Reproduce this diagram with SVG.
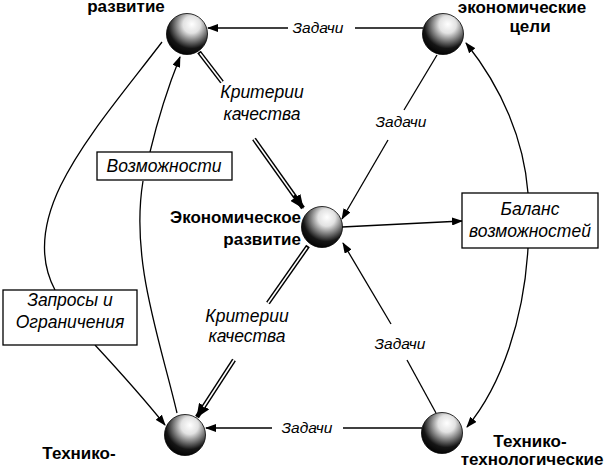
<svg xmlns="http://www.w3.org/2000/svg" width="607" height="468" viewBox="0 0 607 468">
<style>
.bold{font-family:"Liberation Sans",Arial,sans-serif;font-weight:bold;font-size:17px;fill:#000}
.it{font-family:"Liberation Sans",Arial,sans-serif;font-style:italic;font-size:17.5px;fill:#000}
.tz{font-family:"Liberation Sans",Arial,sans-serif;font-style:italic;font-size:15.5px;fill:#000}
.ln{fill:none;stroke:#000;stroke-width:1.3}
.dbl{fill:none;stroke:#000;stroke-width:4.5}
.dblw{fill:none;stroke:#fff;stroke-width:1.6}
.box{fill:#fff;stroke:#000;stroke-width:1.3}
.sph{fill:url(#sg);stroke:#000;stroke-width:0.8}
</style>
<defs>
<radialGradient id="sg" cx="0.6" cy="0.3" r="0.75" fx="0.62" fy="0.26">
<stop offset="0" stop-color="#fff"/>
<stop offset="0.28" stop-color="#e2e2e2"/>
<stop offset="0.52" stop-color="#7a7a7a"/>
<stop offset="0.75" stop-color="#151515"/>
<stop offset="1" stop-color="#000"/>
</radialGradient>
<marker id="ah" markerWidth="11" markerHeight="8" refX="10" refY="4" orient="auto" markerUnits="userSpaceOnUse">
<path d="M0,0 L11,4 L0,8 z" fill="#000"/>
</marker>
<marker id="ahb" markerWidth="14" markerHeight="12" refX="13" refY="6" orient="auto" markerUnits="userSpaceOnUse">
<path d="M0,0 L14,6 L0,12 z" fill="#000"/>
</marker>
</defs>

<g id="connectors">
<line class="ln" x1="423" y1="28" x2="355" y2="28"/>
<line class="ln" x1="288" y1="28" x2="208" y2="28" marker-end="url(#ah)"/>
<line class="ln" x1="422" y1="428" x2="343" y2="428"/>
<line class="ln" x1="272" y1="428" x2="206" y2="428" marker-end="url(#ah)"/>
<line class="ln" x1="437" y1="55" x2="404" y2="110"/>
<line class="ln" x1="388" y1="140" x2="342" y2="219" marker-end="url(#ah)"/>
<line class="ln" x1="436" y1="413" x2="407" y2="360"/>
<line class="ln" x1="391" y1="324" x2="343" y2="243" marker-end="url(#ah)"/>
<line class="ln" x1="342" y1="227" x2="462" y2="221" marker-end="url(#ah)"/>
<path class="ln" d="M528,193 C524,140 502,88 466,43" marker-end="url(#ah)"/>
<path class="ln" d="M528,248 C524,318 502,385 467,427" marker-end="url(#ah)"/>
<path class="ln" d="M162,42 C95,130 15,215 55,290"/>
<path class="ln" d="M95,345 C120,372 145,400 165,425" marker-end="url(#ah)"/>
<path class="ln" d="M177,413 C160,340 130,260 143,181"/>
<path class="ln" d="M150,152 C160,110 170,82 180,57" marker-end="url(#ah)"/>
<line class="dbl" x1="199" y1="52" x2="222" y2="82"/>
<line class="dblw" x1="200" y1="53.3" x2="222" y2="82"/>
<line class="dbl" x1="254" y1="139" x2="303" y2="208" marker-end="url(#ahb)"/>
<line class="dblw" x1="254" y1="139" x2="294" y2="195.4"/>
<line class="dbl" x1="308" y1="246" x2="268" y2="303"/>
<line class="dblw" x1="307" y1="247.4" x2="268" y2="303"/>
<line class="dbl" x1="234" y1="360" x2="197" y2="417" marker-end="url(#ahb)"/>
<line class="dblw" x1="234" y1="360" x2="203.5" y2="407"/>
</g>

<g id="node-tech-dev">
<circle class="sph" cx="187" cy="34" r="20.5"/>
<text class="bold" x="126" y="12" text-anchor="middle">развитие</text>
</g>
<g id="node-econ-goals">
<circle class="sph" cx="443" cy="34" r="20.5"/>
<text class="bold" x="522" y="13" text-anchor="middle">экономические</text>
<text class="bold" x="530" y="32" text-anchor="middle">цели</text>
</g>
<g id="node-econ-dev">
<circle class="sph" cx="322" cy="227" r="20.5"/>
<text class="bold" x="301" y="223" text-anchor="end">Экономическое</text>
<text class="bold" x="301" y="245" text-anchor="end">развитие</text>
</g>
<g id="node-tech-left">
<circle class="sph" cx="185" cy="435" r="20.5"/>
<text class="bold" x="79" y="459" text-anchor="middle">Технико-</text>
</g>
<g id="node-tech-right">
<circle class="sph" cx="442" cy="433" r="20.5"/>
<text class="bold" x="530" y="447" text-anchor="middle">Технико-</text>
<text class="bold" x="532" y="465" text-anchor="middle">технологические</text>
</g>

<g id="box-vozm">
<rect class="box" x="97" y="152" width="135" height="28"/>
<text class="it" x="164" y="172" text-anchor="middle">Возможности</text>
</g>
<g id="box-zapr">
<rect class="box" x="3" y="290" width="134" height="55"/>
<text class="it" x="70" y="306" text-anchor="middle">Запросы и</text>
<text class="it" x="70" y="328" text-anchor="middle">Ограничения</text>
</g>
<g id="box-balans">
<rect class="box" x="462" y="193" width="136" height="55"/>
<text class="it" x="530" y="215" text-anchor="middle">Баланс</text>
<text class="it" x="530" y="237" text-anchor="middle">возможностей</text>
</g>

<g id="labels">
<text class="tz" x="318" y="33" text-anchor="middle">Задачи</text>
<text class="tz" x="307" y="433" text-anchor="middle">Задачи</text>
<text class="tz" x="401" y="127" text-anchor="middle">Задачи</text>
<text class="tz" x="400" y="349" text-anchor="middle">Задачи</text>
<text class="it" x="262" y="98" text-anchor="middle">Критерии</text>
<text class="it" x="262" y="120" text-anchor="middle">качества</text>
<text class="it" x="247" y="322" text-anchor="middle">Критерии</text>
<text class="it" x="247" y="342" text-anchor="middle">качества</text>
</g>
</svg>
